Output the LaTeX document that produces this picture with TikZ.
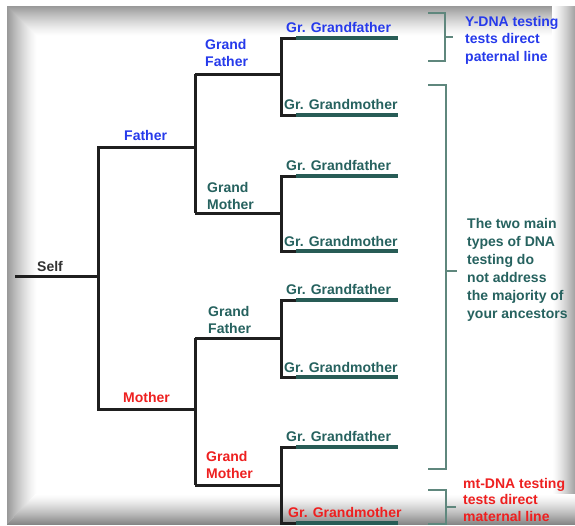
\documentclass[tikz,border=0pt]{standalone}
\usepackage{fontspec}
\setmainfont{Liberation Sans}
\definecolor{ablue}{RGB}{38,58,235}
\definecolor{ateal}{RGB}{38,98,95}
\definecolor{ared}{RGB}{238,32,32}
\definecolor{ggc}{RGB}{40,92,86}
\definecolor{brc}{RGB}{95,135,125}
\definecolor{selfc}{RGB}{50,50,50}
\begin{document}
\begin{tikzpicture}[x=1pt,y=-1pt,
  tree/.style={line width=3pt, draw=black!88},
  ggline/.style={line width=3.4pt, draw=ggc},
  brk/.style={line width=1.6pt, draw=brc},
  lbl/.style={font=\bfseries\fontsize{14}{17.5}\selectfont, inner sep=0pt, align=left},
  bigl/.style={lbl, font=\bfseries\fontsize{14}{18}\selectfont}
]
\useasboundingbox (0,0) rectangle (575,525);
\fill[white] (0,0) rectangle (575,525);
% frame: gradients built from thin strips
\foreach \i in {0,...,29}{
  \pgfmathsetmacro\c{80*(1-\i/30)^1.3}
  \fill[gray!\c] (7+\i,6) rectangle (8.2+\i,525);
}
\foreach \i in {0,...,29}{
  \pgfmathsetmacro\c{80*(1-\i/30)^1.3}
  \fill[gray!\c] (7+\i,6+\i) rectangle (575,7.2+\i);
}
\foreach \i in {0,...,22}{
  \pgfmathsetmacro\c{70*(\i/22)^1.3}
  \fill[gray!\c] (552+\i,6) rectangle (553.2+\i,525);
}
\foreach \i in {0,...,30}{
  \pgfmathsetmacro\c{95*(\i/30)^1.3}
  \pgfmathsetmacro\xl{7+(30-\i)*29/31}
  \fill[gray!\c] (\xl,494+\i) rectangle (575,495.2+\i);
}

% coordinates of the tree
\coordinate (s0) at (15,276);
\coordinate (s1) at (98,276);
\coordinate (fa0) at (98,147);
\coordinate (fa1) at (195,147);
\coordinate (mo0) at (98,409);
\coordinate (mo1) at (195,409);
\coordinate (gfp0) at (195,74);  \coordinate (gfp1) at (280,74);
\coordinate (gmp0) at (195,213); \coordinate (gmp1) at (281,213);
\coordinate (gfm0) at (195,338); \coordinate (gfm1) at (281,338);
\coordinate (gmm0) at (195,485); \coordinate (gmm1) at (281,485);
\foreach \n/\y in {1/38,2/115,3/176,4/251,5/300,6/377,7/447,8/523}{
  \coordinate (g\n a) at (281,\y);
  \coordinate (g\n b) at (296,\y);
  \coordinate (g\n c) at (398,\y);
}

% great-grandparent lines
\foreach \n in {1,...,8}{ \draw[ggline] (g\n b) -- (g\n c); }

% tree lines
\draw[tree] (s0) -- (s1);
\draw[tree] (fa1) -- (fa0) -- (mo0) -- (mo1);
\draw[tree] (gfp0) -- (gmp0);
\draw[tree] (gfm0) -- (gmm0);
\draw[tree] (gfp0) -- (gfp1);
\draw[tree] (gmp0) -- (gmp1);
\draw[tree] (gfm0) -- (gfm1);
\draw[tree] (gmm0) -- (gmm1);
\draw[tree] (g1b) -- (g1a) -- (g2a) -- (g2b);
\draw[tree] (g3b) -- (g3a) -- (g4a) -- (g4b);
\draw[tree] (g5b) -- (g5a) -- (g6a) -- (g6b);
\draw[tree] (g7b) -- (g7a) -- (g8a) -- (g8b);

% labels
\node[lbl, anchor=base west, text=selfc] (self) at (37,271) {Self};
\node[lbl, anchor=base west, text=ablue] (father) at (124,140) {Father};
\node[lbl, anchor=base west, text=ared] (mother) at (123,402) {Mother};
\node[lbl, anchor=north west, text=ablue] (gfpat) at (205,39) {Grand\\Father};
\node[lbl, anchor=north west, text=ateal] (gmpat) at (207,182) {Grand\\Mother};
\node[lbl, anchor=north west, text=ateal] (gfmat) at (208,306) {Grand\\Father};
\node[lbl, anchor=north west, text=ared] (gmmat) at (206,451) {Grand\\Mother};

\node[lbl, anchor=base west, text=ablue] (gg1) at (286,32) {Gr. Grandfather};
\node[lbl, anchor=base west, text=ateal] (gg2) at (284,109) {Gr. Grandmother};
\node[lbl, anchor=base west, text=ateal] (gg3) at (286,170) {Gr. Grandfather};
\node[lbl, anchor=base west, text=ateal] (gg4) at (284,246) {Gr. Grandmother};
\node[lbl, anchor=base west, text=ateal] (gg5) at (286,294) {Gr. Grandfather};
\node[lbl, anchor=base west, text=ateal] (gg6) at (284,372) {Gr. Grandmother};
\node[lbl, anchor=base west, text=ateal] (gg7) at (286,441) {Gr. Grandfather};
\node[lbl, anchor=base west, text=ared] (gg8) at (288,517) {Gr. Grandmother};

% brackets
\coordinate (ya) at (428,13); \coordinate (yb) at (445,13);
\coordinate (yc) at (445,61); \coordinate (yd) at (428,61);
\coordinate (ym) at (445,37); \coordinate (yt) at (453,37);
\draw[brk] (ya) -- (yb) -- (yc) -- (yd);
\draw[brk] (ym) -- (yt);
\coordinate (ba) at (428,85); \coordinate (bb) at (446,85);
\coordinate (bc) at (446,469); \coordinate (bd) at (428,469);
\coordinate (bm) at (446,271); \coordinate (bt) at (457,271);
\draw[brk] (ba) -- (bb) -- (bc) -- (bd);
\draw[brk] (bm) -- (bt);
\coordinate (ma) at (428,490); \coordinate (mb) at (446,490);
\coordinate (mc) at (446,524); \coordinate (md) at (428,524);
\coordinate (mm) at (446,507); \coordinate (mt) at (456,507);
\draw[brk] (ma) -- (mb) -- (mc) -- (md);
\draw[brk] (mm) -- (mt);

\node[lbl, anchor=north west, text=ablue] (ytext) at (465,16) {Y-DNA testing\\tests direct\\paternal line};
\node[bigl, anchor=north west, text=ateal] (btext) at (467,218) {The two main\\types of DNA\\testing do\\not address\\the majority of\\your ancestors};
\node[lbl, anchor=north west, text=ared, font=\bfseries\fontsize{14}{16.5}\selectfont] (mtext) at (463,478) {mt-DNA testing\\tests direct\\maternal line};
\end{tikzpicture}
\end{document}
